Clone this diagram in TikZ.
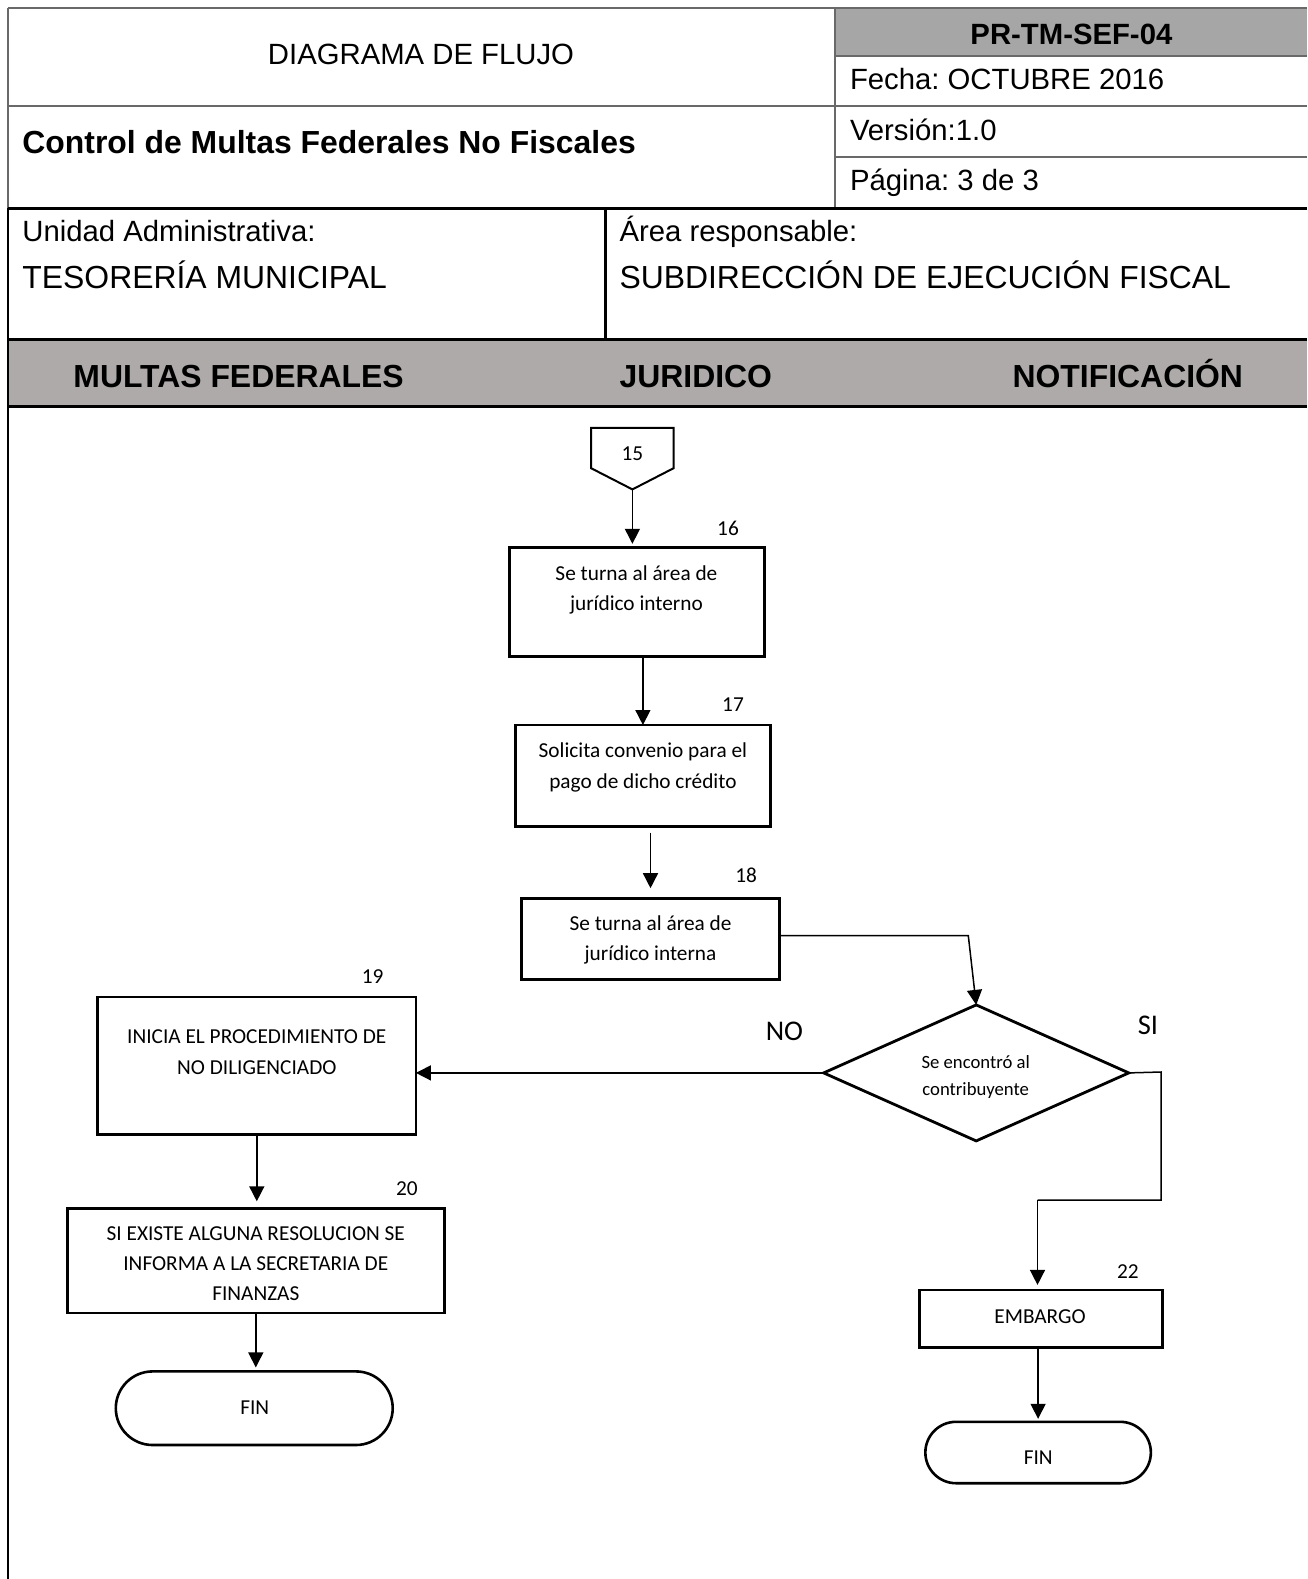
\documentclass[tikz,border=0pt]{standalone}
\usepackage{fontspec}
\setmainfont{Liberation Sans}
\newfontfamily\calfont{Carlito}
\usetikzlibrary{arrows.meta,shapes.geometric,shapes.misc}
\definecolor{cellgray}{RGB}{166,166,166}
\definecolor{lanegray}{RGB}{173,170,169}
\definecolor{rulegray}{RGB}{105,105,105}
\frenchspacing
\begin{document}
\begin{tikzpicture}[x=1pt,y=-1pt,
  hdrs/.style={font=\fontsize{29.3}{35}\selectfont, anchor=base west, inner sep=0},
  hdrl/.style={font=\fontsize{31.9}{38}\selectfont, anchor=base west, inner sep=0},
  lane/.style={font=\bfseries\fontsize{31.9}{38}\selectfont, anchor=base, inner sep=0},
  thinrule/.style={draw=rulegray, line width=2pt},
  thickrule/.style={draw=black, line width=2.8pt},
  box/.style={draw, line width=2.8pt, inner sep=0, outer sep=0},
  term/.style={draw, line width=2.6pt, rounded rectangle, inner sep=0, outer sep=0},
  flow/.style={font=\calfont\fontsize{21.3}{30.3}\selectfont, align=center, inner sep=0},
  num/.style={font=\calfont\fontsize{21.3}{26}\selectfont, inner sep=0},
  yesno/.style={font=\calfont\fontsize{28.5}{34}\selectfont, inner sep=0},
  conn/.style={draw, line width=1.5pt},
  arr/.style={draw, line width=1.5pt, -{Triangle[length=15pt,width=15pt]}}
]
\useasboundingbox (0,0) rectangle (1307,1579);
\fill[white] (0,0) rectangle (1307,1579);

% ---------- header ----------
\fill[cellgray] (834.7,8) rectangle (1307,56.4);
\fill[lanegray] (8,339.3) rectangle (1307,406.8);

\draw[thinrule] (8,8) -- (1307,8);
\draw[thinrule] (8,8) -- (8,208.4);
\draw[thinrule] (834.7,8) -- (834.7,208.4);
\draw[thinrule] (834.7,56.4) -- (1307,56.4);
\draw[thinrule] (8,105.7) -- (1307,105.7);
\draw[thinrule] (834.7,157.1) -- (1307,157.1);
\draw[thickrule] (8,208.4) -- (1307,208.4);
\draw[thickrule] (605.2,208.4) -- (605.2,339.3);
\draw[thickrule] (8,339.3) -- (1307,339.3);
\draw[thickrule] (8,406.8) -- (1307,406.8);
\draw[thickrule] (8,208.4) -- (8,1579);

\node[hdrs, anchor=base] (hdiag) at (421,64.9) {DIAGRAMA DE FLUJO};
\node[hdrl, font=\bfseries\fontsize{31.9}{38}\selectfont] (hctrl) at (22.2,153.4) {Control de Multas Federales No Fiscales};
\node[hdrs, anchor=base, font=\bfseries\fontsize{29.3}{35}\selectfont] (hcode) at (1071.4,44.7) {PR-TM-SEF-04};
\node[hdrs] (hfecha) at (849.8,89) {Fecha: OCTUBRE 2016};
\node[hdrs] (hver) at (849.8,140.4) {Versión:1.0};
\node[hdrs] (hpag) at (849.8,190.7) {Página: 3 de 3};
\node[hdrs] (hunid) at (22.2,241.1) {Unidad Administrativa:};
\node[hdrl] (htes) at (22.2,288.3) {TESORERÍA MUNICIPAL};
\node[hdrs] (harea) at (619.3,241.1) {Área responsable:};
\node[hdrl] (hsub) at (619.3,288.3) {SUBDIRECCIÓN DE EJECUCIÓN FISCAL};

\node[lane] (lmf) at (238.6,387) {MULTAS FEDERALES};
\node[lane] (ljur) at (695.8,387) {JURIDICO};
\node[lane] (lnot) at (1127.8,387) {NOTIFICACIÓN};

% ---------- shapes ----------
\coordinate (c15tip) at (632.4,489.4);
\draw[line width=2pt, line join=miter] (591.1,427.9) -- (673.6,427.9) -- (673.6,468.2) -- (c15tip) -- (591.1,468.2) -- cycle;
\node[num] (t15) at (632.4,454.1) {15};

\node[box, minimum width=254.8pt, minimum height=108.7pt] (b16) at (636.9,602.15) {};
\node[flow] (t16) at (636.4,589.7) {Se turna al área de\\jurídico interno};
\node[num] (n16) at (728,528.8) {16};

\node[box, minimum width=254.8pt, minimum height=101.7pt] (b17) at (642.9,775.85) {};
\node[flow] (t17) at (642.9,767.5) {Solicita convenio para el\\pago de dicho crédito};
\node[num] (n17) at (733,705) {17};

\node[box, minimum width=257.8pt, minimum height=81.5pt] (b18) at (650.5,938.95) {};
\node[flow] (t18) at (650.5,940) {Se turna al área de\\jurídico interna};
\node[num] (n18) at (746.1,875) {18};

\node[draw, diamond, line width=2.8pt, inner sep=0, outer sep=0, minimum width=305.1pt, minimum height=136pt] (dia) at (976.2,1072.9) {};
\node[font=\calfont\fontsize{18.7}{26.2}\selectfont, align=center, inner sep=0] (tdia) at (975.7,1077) {Se encontró al\\contribuyente};
\node[yesno] (tno) at (784.4,1031.6) {NO};
\node[yesno] (tsi) at (1147.9,1025.5) {SI};

\node[box, minimum width=318.2pt, minimum height=137.9pt] (b19) at (256.8,1065.85) {};
\node[flow] (t19) at (256.8,1052.2) {INICIA EL PROCEDIMIENTO DE\\NO DILIGENCIADO};
\node[num] (n19) at (372.6,976.8) {19};

\node[box, minimum width=376.6pt, minimum height=104.7pt] (b20) at (255.8,1260.65) {};
\node[flow] (t20) at (255.8,1263.8) {SI EXISTE ALGUNA RESOLUCION SE\\INFORMA A LA SECRETARIA DE\\FINANZAS};
\node[num] (n20) at (406.8,1188.3) {20};

\node[term, minimum width=276.9pt, minimum height=73.6pt] (fin1) at (254.25,1408.2) {};
\node[flow] (tfin1) at (254.8,1407.9) {FIN};

\node[box, minimum width=243pt, minimum height=57.4pt] (emb) at (1040.8,1318.6) {};
\node[flow] (temb) at (1040,1317) {EMBARGO};
\node[num] (n22) at (1127.8,1271.8) {22};

\node[term, minimum width=225.5pt, minimum height=61.4pt] (fin2) at (1038.1,1452.5) {};
\node[flow] (tfin2) at (1038.2,1458) {FIN};

% ---------- connectors ----------
\draw[arr] (c15tip) -- ([yshift=4pt]b16.north -| c15tip);
\draw[arr] (b16.south -| b17.north) -- (b17.north);
\draw[arr] ([yshift=-6pt]b17.south -| b18.north) -- ([yshift=10pt]b18.north);

\coordinate (k18) at (968.3,935.7);
\draw[arr] (b18.east |- k18) -- (k18) -- (dia.north);

\draw[arr] (dia.west) -- (b19.east |- dia.west);

\coordinate (s1) at (1161,1072);
\coordinate (s2) at (1161,1200);
\coordinate (s3) at (1037.5,1200);
\draw[conn] (dia.east) -- (s1) -- (s2) -- (s3);
\draw[arr] (s3) -- ([yshift=5pt]emb.north -| s3);
\draw[arr] (emb.south -| fin2.north) -- ([yshift=3pt]fin2.north);

\draw[arr] (b19.south) -- ([yshift=7pt]b20.north -| b19.south);
\draw[arr] (b20.south) -- ([yshift=4pt]fin1.north -| b20.south);
\end{tikzpicture}
\end{document}
